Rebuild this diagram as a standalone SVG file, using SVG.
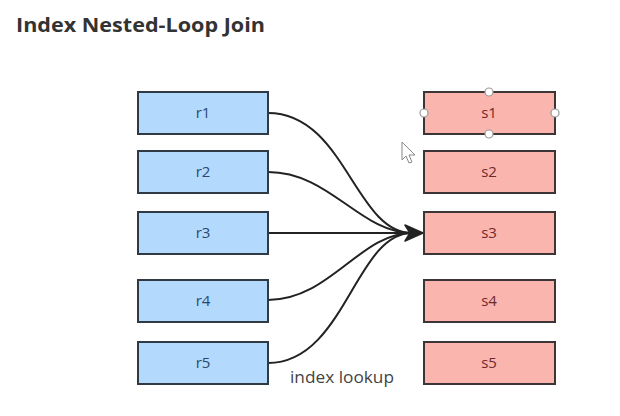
<svg xmlns="http://www.w3.org/2000/svg" width="620" height="416" viewBox="0 0 620 416">
<style>
.r{fill:#b3d9fd;stroke:#2f3a45;stroke-width:2}
.s{fill:#f9b5ae;stroke:#3d3535;stroke-width:2}
.rt{font-family:"Open Sans","DejaVu Sans",sans-serif;font-size:15px;fill:#2b4a6e;text-anchor:middle}
.st{font-family:"Open Sans","DejaVu Sans",sans-serif;font-size:15px;fill:#6e2a2a;text-anchor:middle}
.e{fill:none;stroke:#222;stroke-width:2}
.h{fill:#fff;stroke:#9a9a9a;stroke-width:1.2}
</style>
<defs>
<marker id="arr" markerWidth="10" markerHeight="10" viewBox="0 0 10 10" refX="9" refY="5" markerUnits="userSpaceOnUse" orient="auto" style="overflow:visible">
</marker>
</defs>
<rect width="620" height="416" fill="#fff"/>
<text x="16" y="32" font-family="Open Sans, DejaVu Sans, sans-serif" font-size="19" font-weight="bold" fill="#333" textLength="249" lengthAdjust="spacingAndGlyphs">Index Nested-Loop Join</text>
<g id="connectors">
<path class="e" d="M268,113 C345,113 355,233 412,233"/>
<path class="e" d="M268,172 C330,172 360,233 412,233"/>
<path class="e" d="M268,233 L412,233"/>
<path class="e" d="M268,300 C330,300 360,233 412,233"/>
<path class="e" d="M268,363 C345,363 355,233 412,233"/>
<path d="M423,233 L405,225 L410,233 L405,241 Z" fill="#222" stroke="#222" stroke-width="1.5" stroke-linejoin="round"/>
</g>
<g id="r1"><rect class="r" x="138" y="92" width="130" height="42"/><text class="rt" x="203" y="118">r1</text></g>
<g id="r2"><rect class="r" x="138" y="151" width="130" height="42"/><text class="rt" x="203" y="177">r2</text></g>
<g id="r3"><rect class="r" x="138" y="212" width="130" height="42"/><text class="rt" x="203" y="238">r3</text></g>
<g id="r4"><rect class="r" x="138" y="280" width="130" height="42"/><text class="rt" x="203" y="306">r4</text></g>
<g id="r5"><rect class="r" x="138" y="342" width="130" height="42"/><text class="rt" x="203" y="368">r5</text></g>
<g id="s1"><rect class="s" x="424" y="92" width="131" height="42"/><text class="st" x="489" y="118">s1</text></g>
<g id="s2"><rect class="s" x="424" y="151" width="131" height="42"/><text class="st" x="489" y="177">s2</text></g>
<g id="s3"><rect class="s" x="424" y="212" width="131" height="42"/><text class="st" x="489" y="238">s3</text></g>
<g id="s4"><rect class="s" x="424" y="280" width="131" height="42"/><text class="st" x="489" y="306">s4</text></g>
<g id="s5"><rect class="s" x="424" y="342" width="131" height="42"/><text class="st" x="489" y="368">s5</text></g>
<g id="label"><text x="290" y="383" font-family="Open Sans, DejaVu Sans, sans-serif" font-size="15.5" fill="#444" textLength="104" lengthAdjust="spacingAndGlyphs">index lookup</text></g>
<g id="handles">
<circle class="h" cx="489" cy="92" r="4"/>
<circle class="h" cx="489" cy="134" r="4"/>
<circle class="h" cx="424" cy="113" r="4"/>
<circle class="h" cx="555" cy="113" r="4"/>
</g>
<path d="M402,142 L402,160 L406,156 L409,163 L412,162 L409,155 L415,155 Z" fill="#fff" stroke="#888" stroke-width="1" stroke-linejoin="round"/>
</svg>
